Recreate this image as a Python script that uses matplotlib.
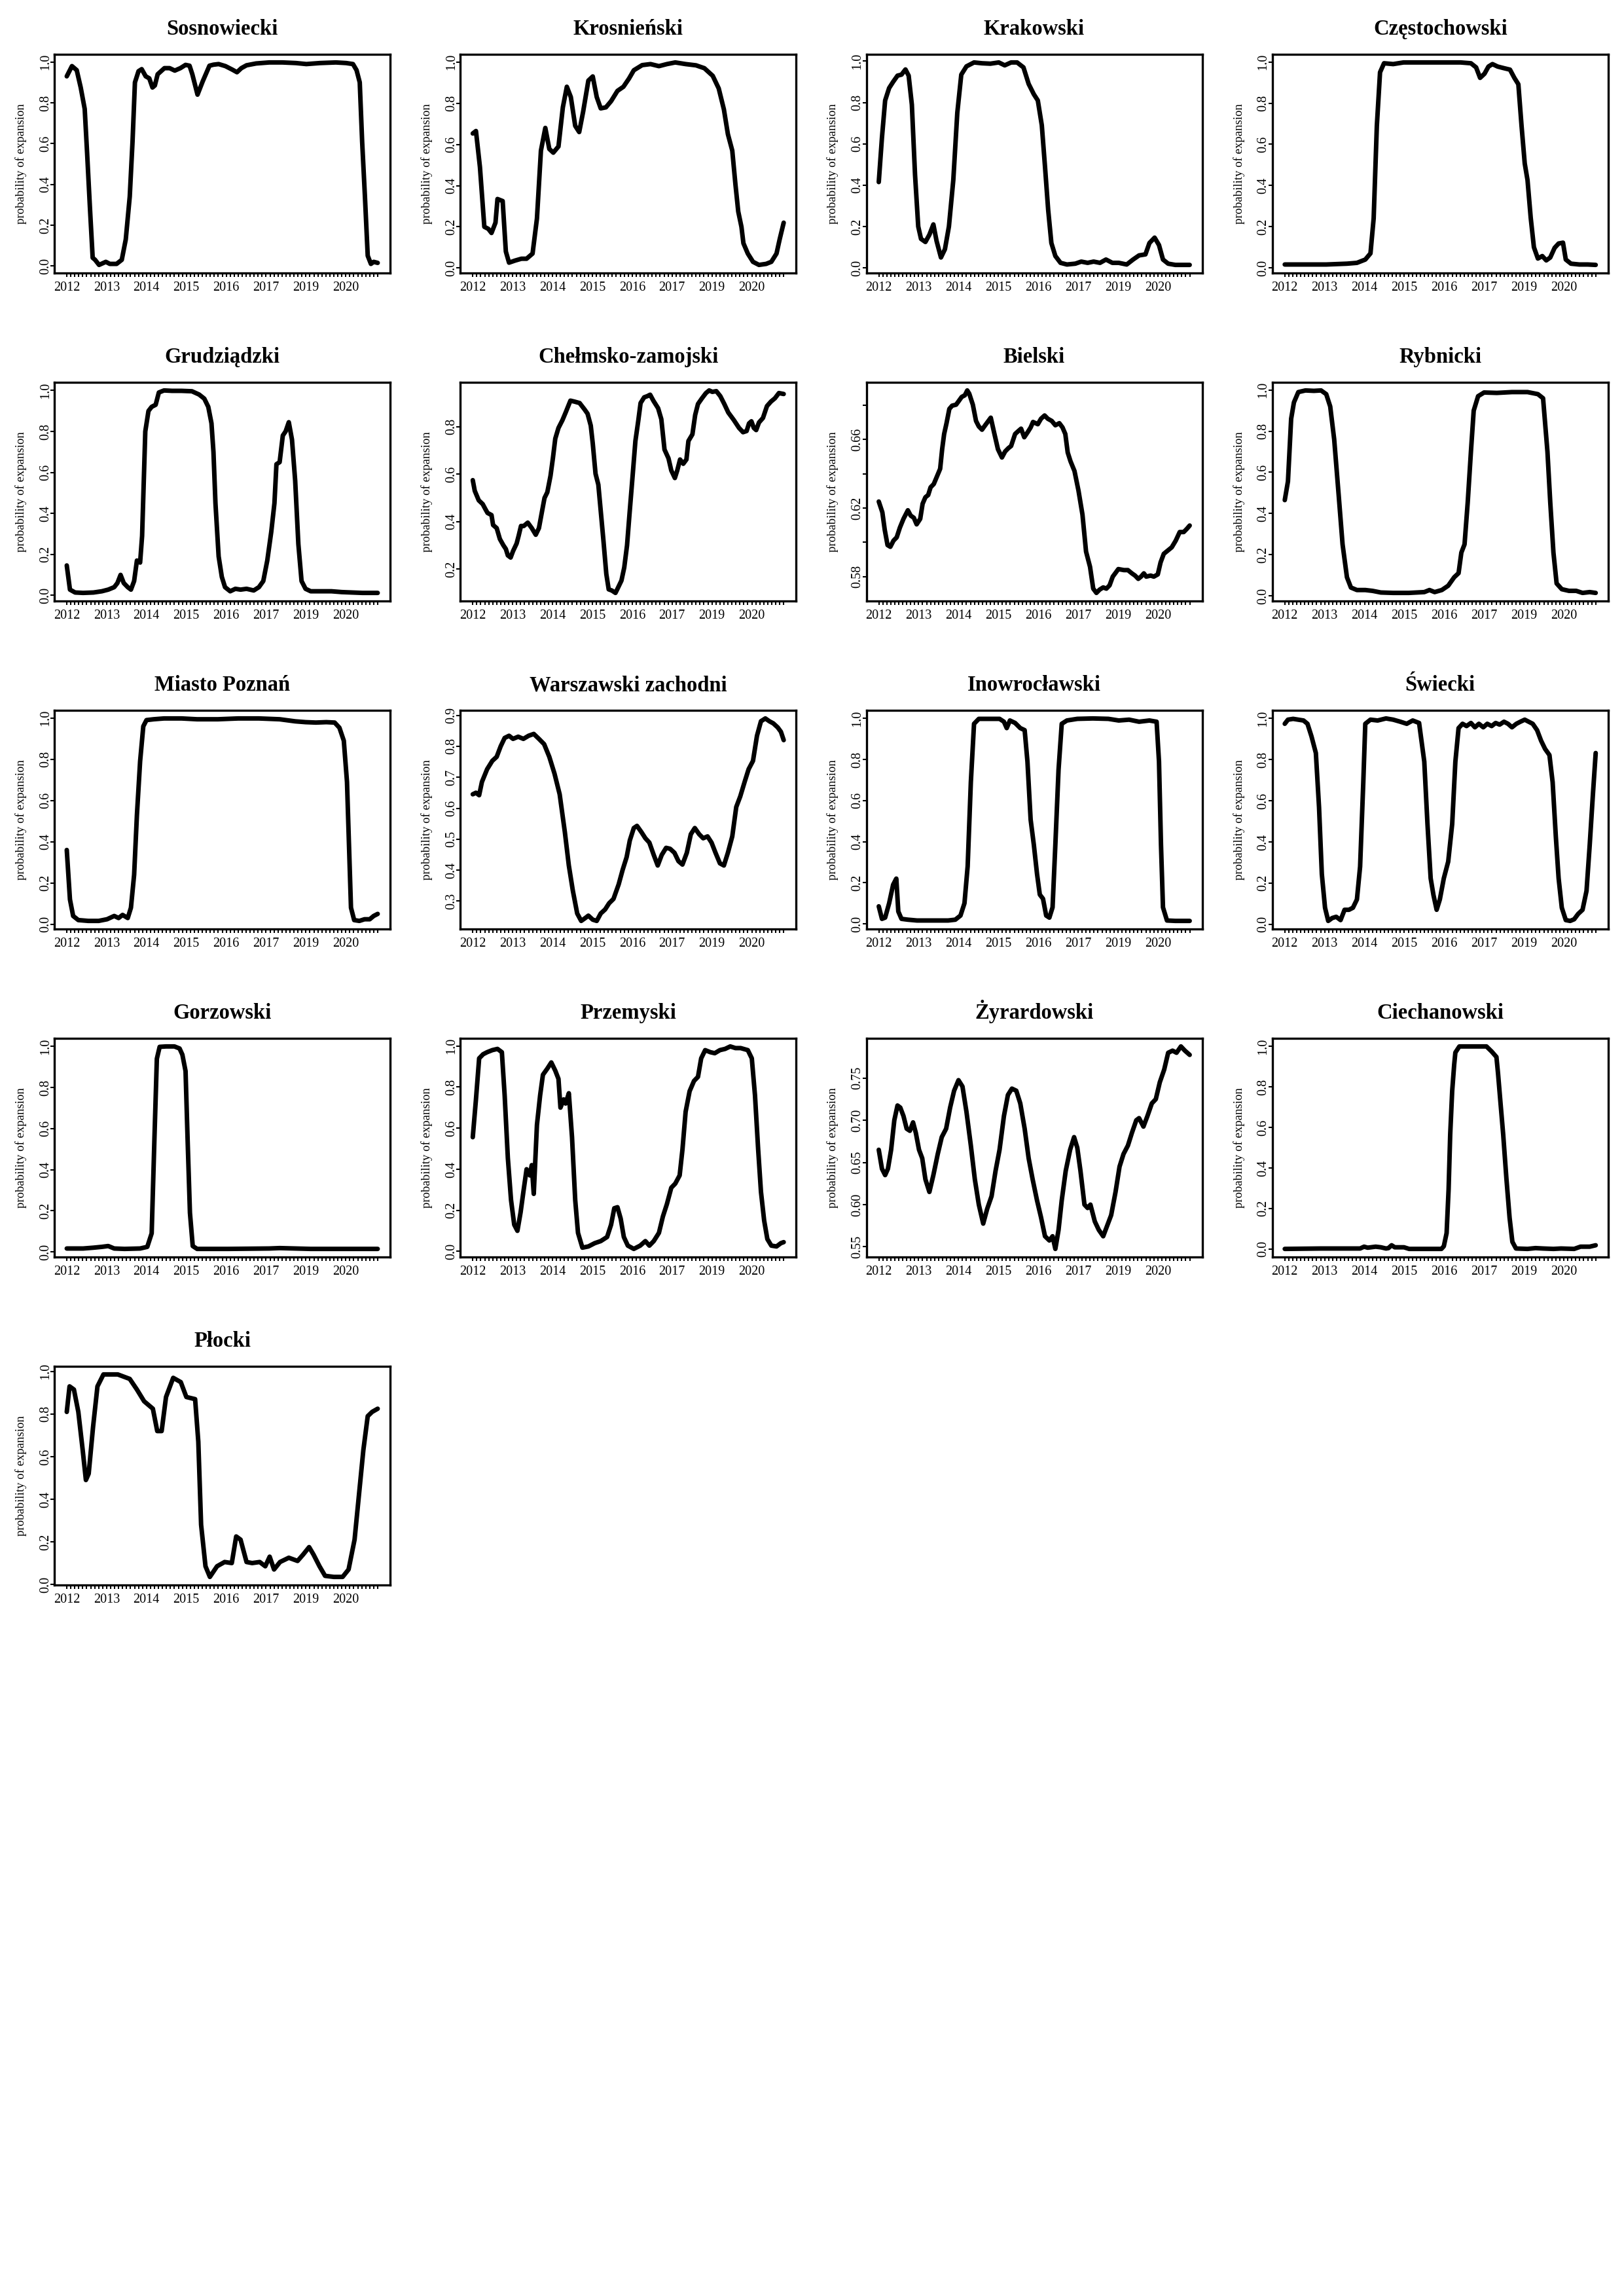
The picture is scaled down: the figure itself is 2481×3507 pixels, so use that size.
import numpy as np
import matplotlib.pyplot as plt

plt.rcParams['font.family'] = ['Liberation Serif', 'DejaVu Serif']

# x axis: one tick per observation, a year label every 10th
n_obs = 79
year_labels = ['2012', '2013', '2014', '2015', '2016', '2017', '2019', '2020']
label_idx = [0, 10, 20, 30, 40, 50, 60, 70]

unit_ticks = [0.0, 0.2, 0.4, 0.6, 0.8, 1.0]
unit_labels = ['0.0', '0.2', '0.4', '0.6', '0.8', '1.0']

sosnowiecki = [(0, 0.93), (1.3, 0.98), (2.5, 0.96), (3.5, 0.875), (4.5, 0.77), (5.1, 0.555), (5.8, 0.29),
               (6.5, 0.04), (7.1, 0.03), (8.1, 0.005), (9.8, 0.02), (10.8, 0.01), (12.5, 0.01), (13.8, 0.03),
               (14.8, 0.13), (15.8, 0.34), (16.5, 0.61), (17.1, 0.90), (18, 0.955), (18.8, 0.965), (19.8, 0.93),
               (20.7, 0.92), (21.5, 0.875), (22.1, 0.885), (22.8, 0.94), (24.5, 0.97), (25.8, 0.97), (27.1, 0.958),
               (28.5, 0.97), (29.8, 0.986), (30.8, 0.982), (31.5, 0.94), (32.8, 0.84), (34.1, 0.905), (35.8, 0.982),
               (36.8, 0.987), (38.1, 0.99), (39.8, 0.98), (41.5, 0.963), (42.7, 0.95), (43.8, 0.97), (45.1, 0.984),
               (47.5, 0.993), (50.8, 0.998), (54.1, 0.998), (57.5, 0.995), (60.1, 0.99), (63.5, 0.995), (67.5, 0.998),
               (70.1, 0.995), (71.8, 0.99), (72.7, 0.96), (73.5, 0.9), (74.1, 0.61), (74.8, 0.34), (75.5, 0.05),
               (76.3, 0.01), (77, 0.02), (78, 0.015)]

krosnienski = [(0, 0.653), (0.8, 0.665), (1.8, 0.49), (2.9, 0.2), (3.9, 0.19), (4.7, 0.17), (5.7, 0.22), (6.2, 0.335),
               (7.5, 0.325), (8.3, 0.08), (9.1, 0.026), (10.6, 0.036), (12.2, 0.045), (13.5, 0.045), (15, 0.07),
               (16.1, 0.24), (17.1, 0.57), (18.2, 0.68), (19.2, 0.578), (20.2, 0.56), (21.5, 0.59), (22.6, 0.78),
               (23.6, 0.88), (24.6, 0.83), (25.7, 0.69), (26.7, 0.66), (27.7, 0.76), (29, 0.91), (30.1, 0.93),
               (31.1, 0.83), (32.1, 0.775), (33.4, 0.78), (34.7, 0.81), (36.3, 0.86), (37.8, 0.88), (39.2, 0.92),
               (40.4, 0.96), (42.5, 0.985), (44.6, 0.99), (46.7, 0.98), (48.7, 0.99), (50.8, 0.998), (53.4, 0.99),
               (56, 0.984), (58.1, 0.97), (60.2, 0.933), (61.7, 0.872), (63, 0.77), (64, 0.65), (65.1, 0.57),
               (65.9, 0.405), (66.6, 0.274), (67.4, 0.2), (67.9, 0.12), (69, 0.07), (70.3, 0.03), (71.8, 0.015),
               (73.6, 0.02), (74.9, 0.03), (76.2, 0.07), (77, 0.14), (78, 0.22)]

krakowski = [(0, 0.415), (0.8, 0.63), (1.6, 0.81), (2.6, 0.87), (3.6, 0.90), (4.7, 0.93), (5.7, 0.935), (6.7, 0.96),
             (7.5, 0.93), (8.3, 0.79), (9.1, 0.45), (9.9, 0.2), (10.6, 0.14), (11.7, 0.125), (12.7, 0.16),
             (13.7, 0.21), (14.5, 0.13), (15.6, 0.05), (16.6, 0.09), (17.6, 0.2), (18.7, 0.425), (19.7, 0.75),
             (20.7, 0.935), (22, 0.975), (23.9, 0.994), (25.9, 0.99), (28, 0.988), (30.1, 0.994), (31.6, 0.98),
             (33.2, 0.994), (34.7, 0.994), (36.3, 0.97), (37.6, 0.89), (38.9, 0.84), (39.9, 0.81), (40.9, 0.69),
             (41.7, 0.49), (42.5, 0.28), (43.3, 0.12), (44.3, 0.057), (45.6, 0.024), (47.2, 0.016), (49.3, 0.02),
             (50.8, 0.03), (52.4, 0.024), (53.9, 0.03), (55.5, 0.024), (57, 0.04), (58.6, 0.024), (60.2, 0.024),
             (62.2, 0.016), (63.8, 0.04), (65.3, 0.06), (66.9, 0.065), (67.9, 0.12), (69.2, 0.146), (70.3, 0.11),
             (71.3, 0.04), (72.6, 0.02), (74.4, 0.014), (76.2, 0.014), (78, 0.014)]

czestochowski = [(0, 0.016), (5.2, 0.016), (10.4, 0.016), (15.6, 0.02), (18.1, 0.024), (20.2, 0.04), (21.5, 0.07),
                 (22.3, 0.24), (23.1, 0.69), (23.9, 0.95), (24.9, 0.994), (27.2, 0.99), (29.8, 0.998), (33.7, 0.998),
                 (38.9, 0.998), (44.1, 0.998), (46.7, 0.994), (48, 0.974), (49, 0.923), (50.1, 0.943), (51.1, 0.978),
                 (52.1, 0.99), (53.4, 0.978), (55, 0.97), (56.5, 0.963), (57.6, 0.923), (58.6, 0.892), (59.4, 0.69),
                 (60.2, 0.507), (60.9, 0.426), (61.7, 0.243), (62.5, 0.1), (63.5, 0.045), (64.6, 0.057),
                 (65.6, 0.036), (66.6, 0.05), (67.7, 0.097), (68.7, 0.118), (69.8, 0.122), (70.5, 0.04),
                 (71.8, 0.02), (73.9, 0.016), (76, 0.016), (78, 0.014)]

grudziadzki = [(0, 0.146), (0.8, 0.028), (2.1, 0.014), (4.1, 0.012), (6.7, 0.014), (8.8, 0.02), (10.4, 0.028),
               (11.9, 0.04), (12.7, 0.06), (13.5, 0.1), (14.3, 0.06), (15.3, 0.04), (16.1, 0.028), (16.9, 0.07),
               (17.6, 0.17), (18.4, 0.16), (18.9, 0.29), (19.7, 0.8), (20.5, 0.9), (21.3, 0.92), (22.3, 0.93),
               (23.1, 0.99), (24.4, 1.0), (26.4, 0.998), (28.8, 0.998), (31.4, 0.996), (33.2, 0.98), (34.5, 0.96),
               (35.5, 0.92), (36.3, 0.84), (36.8, 0.70), (37.3, 0.45), (38.1, 0.19), (38.9, 0.09), (39.7, 0.04),
               (41, 0.02), (42.3, 0.032), (43.6, 0.028), (45.1, 0.032), (46.9, 0.024), (48.2, 0.04), (49.3, 0.07),
               (50.3, 0.17), (51.3, 0.31), (52.1, 0.45), (52.6, 0.64), (53.4, 0.65), (54.2, 0.78), (54.9, 0.8),
               (55.7, 0.845), (56.5, 0.76), (57.3, 0.56), (58.1, 0.25), (58.9, 0.07), (59.9, 0.032), (61.2, 0.02),
               (63.8, 0.02), (66.4, 0.02), (69, 0.016), (71.6, 0.014), (74.2, 0.012), (78, 0.012)]

chelmsko = [(0, 0.575), (0.5, 0.53), (1.5, 0.49), (2.5, 0.474), (3.1, 0.455), (3.7, 0.437), (4.7, 0.428),
            (5.1, 0.386), (6, 0.373), (6.8, 0.327), (7.7, 0.3), (8.3, 0.285), (8.8, 0.258), (9.5, 0.249),
            (10.1, 0.276), (11, 0.308), (11.5, 0.34), (12.1, 0.382), (12.8, 0.382), (13.8, 0.396), (14.8, 0.373),
            (15.8, 0.345), (16.6, 0.373), (17.5, 0.455), (18, 0.5), (18.7, 0.524), (19.5, 0.593), (20.1, 0.667),
            (20.7, 0.75), (21.5, 0.795), (22.5, 0.828), (23.3, 0.86), (24.5, 0.91), (25.5, 0.906), (26.8, 0.9),
            (28, 0.874), (28.8, 0.855), (29.6, 0.805), (30.1, 0.73), (30.8, 0.602), (31.5, 0.556), (32.1, 0.446),
            (32.8, 0.317), (33.5, 0.18), (34.1, 0.115), (34.9, 0.11), (35.8, 0.1), (36.5, 0.124), (37.3, 0.152),
            (38, 0.207), (38.7, 0.3), (39.3, 0.428), (40.1, 0.593), (40.8, 0.74), (41.5, 0.823), (42.1, 0.9),
            (43, 0.924), (43.8, 0.929), (44.5, 0.935), (45.3, 0.91), (46.5, 0.878), (47.3, 0.832), (48.1, 0.704),
            (49.1, 0.667), (49.8, 0.616), (50.7, 0.584), (51.3, 0.616), (52, 0.662), (52.8, 0.644), (53.6, 0.662),
            (54.1, 0.74), (55.1, 0.768), (55.8, 0.85), (56.5, 0.896), (57.5, 0.92), (58.5, 0.942), (59.3, 0.953),
            (60.1, 0.947), (61.1, 0.95), (62.1, 0.929), (63.1, 0.896), (64.1, 0.86), (65.5, 0.828), (66.8, 0.795),
            (67.8, 0.777), (68.7, 0.782), (69.3, 0.814), (69.9, 0.823), (70.5, 0.795), (71.1, 0.786),
            (71.8, 0.818), (72.8, 0.837), (73.8, 0.887), (74.8, 0.906), (75.8, 0.92), (76.8, 0.942), (78, 0.938)]

bielski = [(0, 0.6238), (0.9, 0.6175), (1.5, 0.6073), (2.2, 0.5984), (2.9, 0.5974), (3.7, 0.601), (4.5, 0.6029),
           (5.3, 0.6086), (6.2, 0.6137), (7.3, 0.6187), (8, 0.6156), (8.8, 0.6143), (9.5, 0.6105), (10.4, 0.6137),
           (11, 0.6225), (11.7, 0.6263), (12.4, 0.6276), (13, 0.6321), (13.8, 0.634), (14.7, 0.639),
           (15.4, 0.6429), (15.9, 0.6543), (16.4, 0.6632), (17, 0.6695), (17.7, 0.6778), (18.4, 0.6797),
           (19.4, 0.6803), (20, 0.6822), (20.8, 0.6848), (21.6, 0.6858), (22.2, 0.6886), (22.7, 0.6867),
           (23.6, 0.6803), (24.4, 0.6708), (25.1, 0.6676), (25.9, 0.6657), (26.7, 0.6683), (28.1, 0.6727),
           (28.9, 0.6644), (29.9, 0.6543), (30.9, 0.6495), (31.7, 0.653), (32.5, 0.6549), (33.2, 0.6562),
           (34.2, 0.6632), (35.1, 0.6651), (35.7, 0.6663), (36.5, 0.6613), (37.4, 0.6644), (38.1, 0.667),
           (38.7, 0.6702), (39.9, 0.6689), (40.7, 0.6721), (41.6, 0.674), (42.4, 0.6721), (43.4, 0.6708),
           (44.3, 0.6683), (45.3, 0.6695), (46.1, 0.667), (46.8, 0.6632), (47.4, 0.6524), (48.1, 0.6473),
           (49.1, 0.6416), (50.1, 0.6302), (51.1, 0.6162), (52, 0.5946), (53, 0.5857), (53.8, 0.573),
           (54.6, 0.5705), (55.4, 0.5724), (56.3, 0.5737), (57.1, 0.573), (57.9, 0.5749), (58.7, 0.58),
           (59.5, 0.5825), (60.1, 0.5844), (61.5, 0.5838), (62.5, 0.5838), (63.5, 0.5819), (64.3, 0.5806),
           (65.1, 0.5787), (65.8, 0.58), (66.5, 0.5819), (67.1, 0.58), (68.2, 0.5806), (69, 0.58), (70, 0.5813),
           (70.7, 0.5883), (71.5, 0.5933), (72.5, 0.5952), (73.5, 0.5971), (74.5, 0.601), (75.5, 0.606),
           (76.5, 0.606), (77.3, 0.6079), (78, 0.6098)]

rybnicki = [(0, 0.465), (0.8, 0.556), (1.6, 0.86), (2.3, 0.94), (3.4, 0.99), (5.2, 0.998), (7.3, 0.996),
            (9.1, 0.998), (10.4, 0.98), (11.4, 0.92), (12.4, 0.76), (13.5, 0.495), (14.5, 0.25), (15.6, 0.09),
            (16.6, 0.04), (18.1, 0.028), (20.2, 0.028), (22, 0.024), (24.1, 0.016), (27.2, 0.014), (31.1, 0.014),
            (35, 0.018), (36.3, 0.028), (37.6, 0.018), (39.4, 0.028), (41, 0.049), (42.5, 0.09), (43.6, 0.11),
            (44.3, 0.21), (45.1, 0.25), (45.9, 0.455), (46.7, 0.70), (47.4, 0.9), (48.5, 0.97), (50, 0.988),
            (53.2, 0.986), (57, 0.99), (60.9, 0.99), (63.5, 0.98), (64.8, 0.96), (65.9, 0.70), (66.6, 0.455),
            (67.4, 0.21), (68.2, 0.06), (69.5, 0.032), (71.3, 0.024), (73.1, 0.024), (74.7, 0.014),
            (76.5, 0.018), (78, 0.014)]

poznan = [(0, 0.36), (0.8, 0.12), (1.6, 0.04), (2.9, 0.02), (5.4, 0.016), (8, 0.016), (10.1, 0.024), (11.9, 0.04),
          (13, 0.03), (14, 0.045), (15.3, 0.03), (16.1, 0.08), (16.9, 0.24), (17.6, 0.53), (18.4, 0.79),
          (19.2, 0.96), (20, 0.99), (21.8, 0.994), (24.4, 0.998), (28.8, 0.998), (32.7, 0.994), (37.9, 0.994),
          (43, 0.998), (48.2, 0.998), (53.4, 0.994), (57.3, 0.984), (59.9, 0.98), (62.5, 0.978), (65.1, 0.98),
          (67.2, 0.978), (68.4, 0.953), (69.5, 0.89), (70.3, 0.69), (70.8, 0.385), (71.3, 0.08), (72.1, 0.02),
          (73.4, 0.016), (74.7, 0.024), (76, 0.024), (77, 0.04), (78, 0.05)]

warszawski = [(0, 0.645), (0.8, 0.65), (1.6, 0.642), (2.3, 0.685), (3.6, 0.726), (4.9, 0.753), (6, 0.766),
              (7, 0.8), (8, 0.827), (9.1, 0.834), (10.1, 0.824), (11.4, 0.831), (12.7, 0.824), (14, 0.834),
              (15.3, 0.84), (16.6, 0.824), (17.9, 0.807), (19.2, 0.766), (20.5, 0.712), (21.8, 0.645),
              (23.1, 0.523), (24.1, 0.415), (25.1, 0.334), (26.2, 0.26), (27.2, 0.236), (28.3, 0.246), (29, 0.253),
              (30.1, 0.24), (31.1, 0.236), (32.1, 0.26), (33.2, 0.273), (34.2, 0.293), (35.3, 0.307), (36.6, 0.354),
              (37.6, 0.401), (38.6, 0.442), (39.4, 0.496), (40.4, 0.536), (41.2, 0.543), (42.3, 0.523),
              (43.3, 0.503), (44.3, 0.489), (45.4, 0.449), (46.4, 0.415), (47.4, 0.449), (48.5, 0.472),
              (49.5, 0.469), (50.6, 0.456), (51.6, 0.429), (52.6, 0.418), (53.7, 0.456), (54.7, 0.516),
              (55.7, 0.536), (56.8, 0.516), (57.8, 0.503), (58.9, 0.509), (59.9, 0.489), (60.9, 0.456), (62, 0.422),
              (63, 0.415), (64, 0.456), (65.1, 0.509), (66.1, 0.604), (67.1, 0.638), (68.2, 0.685), (69.2, 0.726),
              (70.3, 0.753), (71.3, 0.834), (72.3, 0.881), (73.4, 0.89), (74.4, 0.881), (75.4, 0.874),
              (76.5, 0.861), (77.3, 0.847), (78, 0.82)]

inowroclawski = [(0, 0.085), (0.8, 0.024), (1.6, 0.03), (2.6, 0.1), (3.6, 0.19), (4.4, 0.22), (4.9, 0.06),
                 (5.7, 0.024), (7.3, 0.02), (9.6, 0.016), (13.5, 0.016), (17.4, 0.016), (19.2, 0.02), (20.5, 0.04),
                 (21.5, 0.1), (22.3, 0.28), (23.1, 0.69), (23.9, 0.974), (25.1, 0.998), (27.7, 0.998), (30.3, 0.998),
                 (31.4, 0.984), (32.1, 0.953), (32.9, 0.99), (34.2, 0.978), (35.5, 0.953), (36.6, 0.943),
                 (37.3, 0.79), (38.1, 0.507), (38.9, 0.385), (39.7, 0.243), (40.4, 0.142), (41.2, 0.122),
                 (42, 0.04), (42.8, 0.03), (43.6, 0.08), (44.3, 0.385), (45.1, 0.75), (45.9, 0.974), (47.2, 0.99),
                 (49.8, 0.998), (53.7, 1.0), (57.6, 0.998), (60.2, 0.99), (62.8, 0.994), (65.3, 0.984), (67.9, 0.99),
                 (69.7, 0.984), (70.3, 0.79), (70.8, 0.385), (71.3, 0.08), (72.3, 0.016), (74.4, 0.014),
                 (78, 0.014)]

swiecki = [(0, 0.974), (0.8, 0.994), (2.1, 0.998), (3.4, 0.994), (4.7, 0.99), (5.7, 0.974), (6.7, 0.913),
           (7.8, 0.832), (8.6, 0.568), (9.3, 0.243), (10.1, 0.08), (10.9, 0.016), (11.9, 0.03), (12.9, 0.036),
           (14, 0.02), (15, 0.07), (16.1, 0.07), (17.1, 0.08), (18.1, 0.12), (18.9, 0.28), (19.7, 0.69),
           (20.2, 0.974), (21.5, 0.994), (23.3, 0.99), (25.4, 1.0), (27.2, 0.994), (29, 0.984), (30.6, 0.974),
           (32.1, 0.99), (33.7, 0.978), (35, 0.79), (35.8, 0.487), (36.6, 0.223), (37.3, 0.142), (38.1, 0.07),
           (38.9, 0.12), (39.9, 0.223), (41, 0.304), (42, 0.487), (42.8, 0.79), (43.6, 0.953), (44.6, 0.974),
           (45.6, 0.963), (46.7, 0.978), (47.7, 0.957), (48.7, 0.974), (49.8, 0.957), (50.8, 0.974),
           (51.9, 0.963), (52.9, 0.978), (53.9, 0.97), (55, 0.984), (56, 0.974), (57, 0.957), (58.1, 0.974),
           (59.1, 0.984), (60.2, 0.994), (61.2, 0.984), (62.2, 0.974), (63.3, 0.943), (64.3, 0.892),
           (65.3, 0.852), (66.4, 0.822), (67.2, 0.69), (68, 0.426), (68.7, 0.223), (69.5, 0.08), (70.5, 0.02),
           (71.6, 0.016), (72.6, 0.024), (73.6, 0.05), (74.7, 0.07), (75.7, 0.162), (76.5, 0.385), (77.3, 0.63),
           (78, 0.832)]

gorzowski = [(0, 0.016), (4.1, 0.016), (6.7, 0.02), (8.8, 0.024), (10.4, 0.028), (11.9, 0.016), (14.5, 0.014),
             (18.4, 0.016), (20.2, 0.024), (21.3, 0.09), (22, 0.556), (22.6, 0.94), (23.3, 0.998), (24.9, 1.0),
             (27, 1.0), (28.3, 0.99), (29, 0.96), (29.8, 0.88), (30.3, 0.556), (30.9, 0.19), (31.6, 0.028),
             (32.7, 0.014), (40.4, 0.014), (50.8, 0.016), (53.4, 0.018), (61.2, 0.014), (69, 0.014), (78, 0.014)]

przemyski = [(0, 0.556), (0.8, 0.74), (1.6, 0.94), (2.6, 0.96), (3.6, 0.97), (4.9, 0.98), (6.2, 0.986), (7.3, 0.97),
             (8, 0.76), (8.8, 0.455), (9.6, 0.25), (10.4, 0.13), (11.2, 0.1), (12, 0.19), (12.7, 0.29), (13.5, 0.40),
             (14.3, 0.37), (14.8, 0.42), (15.3, 0.28), (16.1, 0.616), (16.9, 0.76), (17.6, 0.86), (18.7, 0.89),
             (19.7, 0.92), (20.7, 0.88), (21.5, 0.84), (22, 0.70), (22.8, 0.74), (23.3, 0.72), (24.1, 0.77),
             (24.9, 0.556), (25.7, 0.25), (26.4, 0.09), (27.5, 0.018), (29, 0.024), (30.6, 0.04), (32.1, 0.05),
             (33.7, 0.07), (34.7, 0.13), (35.5, 0.21), (36.3, 0.215), (37.1, 0.16), (37.9, 0.07), (38.9, 0.028),
             (40.4, 0.012), (42, 0.028), (43.3, 0.05), (44.3, 0.028), (45.4, 0.05), (46.7, 0.09), (47.7, 0.17),
             (48.7, 0.23), (49.8, 0.31), (50.8, 0.33), (51.9, 0.37), (52.6, 0.495), (53.4, 0.68), (54.4, 0.78),
             (55.5, 0.83), (56.5, 0.85), (57.3, 0.94), (58.3, 0.98), (59.6, 0.97), (60.7, 0.965), (62, 0.98),
             (63.3, 0.986), (64.6, 0.998), (65.9, 0.99), (67.2, 0.99), (69, 0.98), (70, 0.94), (70.8, 0.76),
             (71.6, 0.495), (72.3, 0.29), (73.1, 0.15), (73.9, 0.06), (74.9, 0.028), (76.2, 0.024), (77.3, 0.04),
             (78, 0.045)]

zyrardowski = [(0, 0.665), (0.8, 0.6425), (1.6, 0.635), (2.3, 0.6425), (3.1, 0.665), (3.9, 0.70), (4.7, 0.7175),
               (5.4, 0.715), (6.2, 0.705), (7, 0.69), (7.8, 0.6875), (8.6, 0.6975), (9.3, 0.685), (10.1, 0.665),
               (10.9, 0.655), (11.7, 0.63), (12.7, 0.615), (13.7, 0.635), (14.8, 0.66), (15.8, 0.68), (16.9, 0.69),
               (17.9, 0.715), (18.9, 0.735), (20, 0.7475), (21, 0.74), (22, 0.71), (23.1, 0.67), (24.1, 0.63),
               (25.1, 0.60), (26.2, 0.5775), (27.2, 0.595), (28.3, 0.61), (29.3, 0.64), (30.3, 0.665),
               (31.4, 0.705), (32.4, 0.73), (33.4, 0.7375), (34.5, 0.735), (35.5, 0.72), (36.6, 0.69),
               (37.6, 0.655), (38.6, 0.63), (39.7, 0.605), (40.7, 0.585), (41.7, 0.5625), (42.8, 0.5575),
               (43.6, 0.5625), (44.3, 0.5475), (45.1, 0.57), (45.9, 0.605), (46.9, 0.64), (48, 0.665), (49, 0.68),
               (49.8, 0.6675), (50.6, 0.64), (51.6, 0.60), (52.4, 0.596), (53.1, 0.60), (54.2, 0.58), (55.2, 0.57),
               (56.3, 0.5625), (57.3, 0.575), (58.3, 0.5875), (59.4, 0.615), (60.4, 0.645), (61.4, 0.66),
               (62.5, 0.67), (63.5, 0.685), (64.6, 0.70), (65.3, 0.7025), (66.4, 0.6925), (67.4, 0.705),
               (68.5, 0.72), (69.5, 0.725), (70.5, 0.745), (71.6, 0.76), (72.6, 0.78), (73.7, 0.7825), (74.7, 0.78),
               (75.8, 0.7875), (76.8, 0.7825), (78, 0.7775)]

ciechanowski = [(0, 0.0), (9, 0.002), (15.7, 0.002), (18.9, 0.002), (19.9, 0.011), (20.8, 0.006), (22.8, 0.011),
                (24.1, 0.008), (25.4, 0.002), (26, 0.004), (26.8, 0.018), (27.6, 0.008), (29.9, 0.008), (31.2, 0.0),
                (35.1, 0.0), (39.3, 0.0), (39.9, 0.013), (40.6, 0.078), (41.1, 0.294), (41.5, 0.564), (42, 0.78),
                (42.5, 0.91), (42.8, 0.97), (43.8, 1.0), (45.4, 1.0), (48, 1.0), (50.6, 1.0), (51.9, 0.975),
                (53.1, 0.948), (53.5, 0.867), (54.1, 0.726), (54.8, 0.564), (55.6, 0.348), (56.4, 0.154),
                (57.1, 0.035), (58, 0.002), (60.9, 0.0), (62.9, 0.004), (64.8, 0.002), (67.4, 0.0), (69.3, 0.002),
                (72.6, 0.0), (74.2, 0.011), (76.5, 0.011), (78, 0.018)]

plocki = [(0, 0.81), (0.7, 0.93), (1.8, 0.915), (2.9, 0.81), (4, 0.63), (4.8, 0.49), (5.5, 0.52), (6.6, 0.74),
          (7.7, 0.93), (9.2, 0.986), (11, 0.986), (12.8, 0.986), (15.8, 0.965), (17.6, 0.915), (19.4, 0.86),
          (21.6, 0.825), (22.7, 0.72), (23.8, 0.72), (24.9, 0.88), (26.7, 0.97), (28.6, 0.95), (30, 0.88),
          (32.2, 0.87), (33, 0.67), (33.7, 0.28), (34.8, 0.085), (35.9, 0.035), (37.7, 0.085), (39.6, 0.105),
          (41.4, 0.1), (42.5, 0.225), (43.6, 0.21), (45.1, 0.105), (46.5, 0.1), (48.4, 0.105), (49.8, 0.085),
          (50.9, 0.13), (52, 0.07), (53.5, 0.105), (55.7, 0.125), (57.9, 0.11), (59.3, 0.14), (60.8, 0.175),
          (61.9, 0.14), (63.4, 0.085), (64.8, 0.04), (67, 0.035), (69.2, 0.035), (70.7, 0.07), (72.2, 0.21),
          (73.3, 0.42), (74.4, 0.63), (75.5, 0.79), (76.6, 0.81), (78, 0.825)]

bielski_ticks = [0.58, 0.60, 0.62, 0.64, 0.66, 0.68]
bielski_labels = ['0.58', '', '0.62', '', '0.66', '']
chelmsko_ticks = [0.2, 0.4, 0.6, 0.8]
chelmsko_labels = ['0.2', '0.4', '0.6', '0.8']
warszawski_ticks = [0.3, 0.4, 0.5, 0.6, 0.7, 0.8, 0.9]
warszawski_labels = ['0.3', '0.4', '0.5', '0.6', '0.7', '0.8', '0.9']
zyrardowski_ticks = [0.55, 0.60, 0.65, 0.70, 0.75]
zyrardowski_labels = ['0.55', '0.60', '0.65', '0.70', '0.75']

panels = [
    ('Sosnowiecki', sosnowiecki, unit_ticks, unit_labels),
    ('Krosnieński', krosnienski, unit_ticks, unit_labels),
    ('Krakowski', krakowski, unit_ticks, unit_labels),
    ('Częstochowski', czestochowski, unit_ticks, unit_labels),
    ('Grudziądzki', grudziadzki, unit_ticks, unit_labels),
    ('Chełmsko-zamojski', chelmsko, chelmsko_ticks, chelmsko_labels),
    ('Bielski', bielski, bielski_ticks, bielski_labels),
    ('Rybnicki', rybnicki, unit_ticks, unit_labels),
    ('Miasto Poznań', poznan, unit_ticks, unit_labels),
    ('Warszawski zachodni', warszawski, warszawski_ticks, warszawski_labels),
    ('Inowrocławski', inowroclawski, unit_ticks, unit_labels),
    ('Świecki', swiecki, unit_ticks, unit_labels),
    ('Gorzowski', gorzowski, unit_ticks, unit_labels),
    ('Przemyski', przemyski, unit_ticks, unit_labels),
    ('Żyrardowski', zyrardowski, zyrardowski_ticks, zyrardowski_labels),
    ('Ciechanowski', ciechanowski, unit_ticks, unit_labels),
    ('Płocki', plocki, unit_ticks, unit_labels),
]

W, H = 2481, 3507
cell_w, cell_h = W / 4, 501

fig = plt.figure(figsize=(W / 100, H / 100), dpi=100)
xlabels = [year_labels[label_idx.index(i)] if i in label_idx else '' for i in range(n_obs)]

for k, (title, pts, yt, yl) in enumerate(panels):
    r, c = divmod(k, 4)
    x0 = c * cell_w
    y0 = r * cell_h
    ax = fig.add_axes([(x0 + 83) / W, 1 - (y0 + 417) / H, 513 / W, 334 / H])
    pts = np.array(pts)
    ax.plot(pts[:, 0], pts[:, 1], color='black', lw=5,
            solid_capstyle='round', solid_joinstyle='round')
    span = n_obs - 1
    ax.set_xlim(-0.04 * span, span * 1.04)
    ax.set_xticks(range(n_obs))
    ax.set_xticklabels(xlabels, fontsize=14.5)
    ax.set_yticks(yt)
    ax.set_yticklabels(yl, rotation=90, va='center', fontsize=14.5)
    lo, hi = pts[:, 1].min(), pts[:, 1].max()
    pad = 0.04 * (hi - lo)
    ax.set_ylim(lo - pad, hi + pad)
    ax.tick_params(axis='both', direction='out', length=4, width=1.5, color='black')
    ax.tick_params(axis='x', pad=5.5)
    ax.tick_params(axis='y', pad=-1)
    for s in ax.spines.values():
        s.set_linewidth(2.4)
    fig.text((x0 + 339.5) / W, 1 - (y0 + 53) / H, title, ha='center', va='baseline',
             fontsize=23.5, fontweight='bold')
    fig.text((x0 + 32) / W, 1 - (y0 + 250) / H, 'probability of expansion', rotation=90,
             ha='center', va='center', fontsize=13.5)

fig.savefig('out.png', dpi=100)
